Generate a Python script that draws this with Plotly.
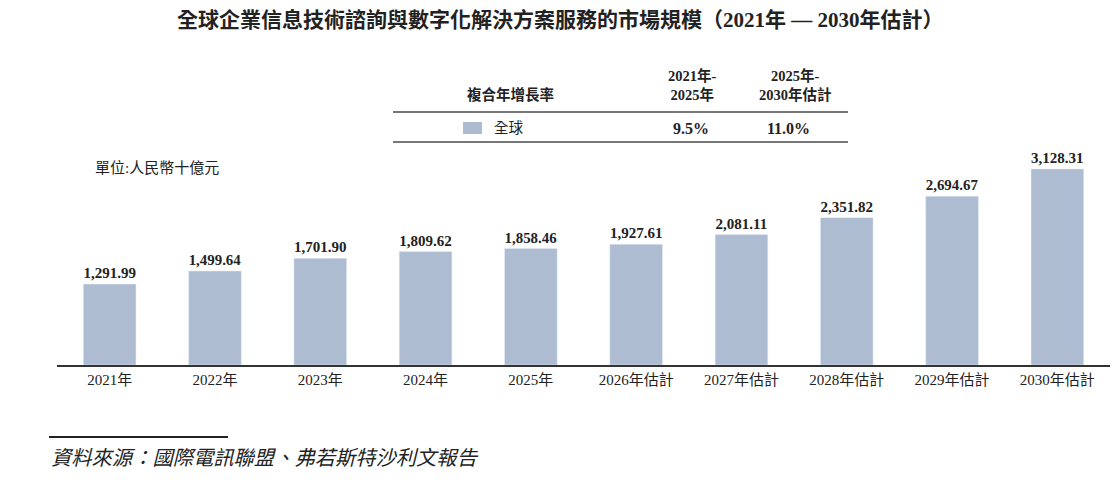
import plotly.graph_objects as go

categories = ["2021年", "2022年", "2023年", "2024年", "2025年",
              "2026年估計", "2027年估計", "2028年估計", "2029年估計", "2030年估計"]
values = [1291.99, 1499.64, 1701.90, 1809.62, 1858.46,
          1927.61, 2081.11, 2351.82, 2694.67, 3128.31]
cagr_headers = ["2021年-<br>2025年", "2025年-<br>2030年估計"]
cagr_values = ["9.5%", "11.0%"]
region = "全球"

W, H = 1120, 485
L, R, T, B = 57, 10, 115, 120
PW, PH = W - L - R, H - T - B
BAR = "#adbcd1"
FONT = "Liberation Serif, Noto Sans CJK TC, serif"

def px(x):
    return (x - L) / PW

def py(y):
    return (H - B - y) / PH

fig = go.Figure()
fig.add_trace(go.Bar(
    x=categories, y=values, marker_color=BAR, width=0.5,
    text=[f"<b>{v:,.2f}</b>" for v in values], textposition="outside",
    textfont=dict(size=15, color="#222", family=FONT), cliponaxis=False,
    hoverinfo="skip",
))

ann = []
def a(x, y, text, size=13, color="#222", xanchor="center", bold=False, italic=False):
    t = text
    if bold:
        t = f"<b>{t}</b>"
    if italic:
        t = f"<i>{t}</i>"
    ann.append(dict(x=px(x), y=py(y), xref="paper", yref="paper", text=t,
                    showarrow=False, xanchor=xanchor, yanchor="middle",
                    font=dict(size=size, color=color, family=FONT)))

a(560, 20, "全球企業信息技術諮詢與數字化解決方案服務的市場規模（2021年 — 2030年估計）", size=21, bold=True)
a(510, 95, "複合年增長率", size=14.5, bold=True)
a(692, 85, cagr_headers[0], size=14.5, bold=True)
a(795, 85, cagr_headers[1], size=14.5, bold=True)
a(492, 128, region, size=14.5, xanchor="left")
a(691, 128, cagr_values[0], size=16, bold=True)
a(788, 128, cagr_values[1], size=16, bold=True)
a(93, 168, "單位:人民幣十億元", size=15, xanchor="left")
a(49, 458, "資料來源：國際電訊聯盟、弗若斯特沙利文報告", size=20.3, xanchor="left", italic=True)

shapes = [
    dict(type="line", xref="paper", yref="paper", x0=px(393), x1=px(848), y0=py(112), y1=py(112),
         line=dict(color="#777", width=2)),
    dict(type="line", xref="paper", yref="paper", x0=px(393), x1=px(848), y0=py(142), y1=py(142),
         line=dict(color="#777", width=2)),
    dict(type="rect", xref="paper", yref="paper", x0=px(463), x1=px(482), y0=py(134), y1=py(122),
         fillcolor=BAR, line=dict(width=0)),
    dict(type="line", xref="paper", yref="paper", x0=px(49), x1=px(228), y0=py(437), y1=py(437),
         line=dict(color="#222", width=2)),
]

fig.update_layout(
    width=W, height=H, margin=dict(l=L, r=R, t=T, b=B),
    paper_bgcolor="white", plot_bgcolor="white", showlegend=False,
    annotations=ann, shapes=shapes, bargap=0.5,
    font=dict(family=FONT, color="#222"),
)
fig.update_xaxes(range=[-0.5, 9.5], showline=True, linecolor="#333", linewidth=1.5,
                 ticks="", tickfont=dict(size=15, family=FONT, color="#222"), showgrid=False)
fig.update_yaxes(range=[0, PH / 0.06266], visible=False, showgrid=False)

fig.write_html("out.html")
